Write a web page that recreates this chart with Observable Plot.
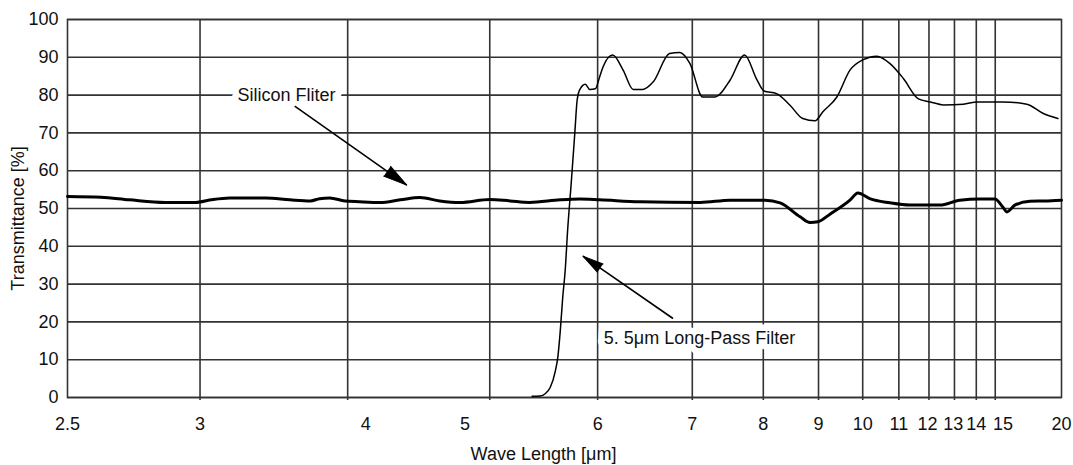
<!DOCTYPE html>
<html><head><meta charset="utf-8">
<script src="https://cdn.jsdelivr.net/npm/d3@7"></script>
<script src="https://cdn.jsdelivr.net/npm/@observablehq/plot@0.6"></script>
<style>html,body{margin:0;padding:0;background:#fff;} #chart{width:1073px;height:465px;overflow:hidden;}</style>
</head><body><div id="chart"></div>
<script>
// ---- data (wavelength in µm, transmittance in %) ----
const tickLabels    = ["2.5", "3", "4", "5", "6", "7", "8", "9", "10", "11", "12", "13", "14", "15", "20"];
const tickLabelAt   = [2.5, 3, 4, 5, 6, 7, 8, 9, 10, 11, 11.95, 12.95, 14, 15.45, 20]; // where each label sits in the reference
const gridWaves     = [3, 3.86, 5.16, 6, 7, 8, 9, 10, 11, 12, 13, 14, 15];
const yTicks        = [0, 10, 20, 30, 40, 50, 60, 70, 80, 90, 100];

const siliconWave = [2.50, 2.61, 2.71, 2.85, 2.98, 3.05, 3.14, 3.33, 3.47, 3.60, 3.66, 3.73, 3.84, 3.95, 4.12, 4.30, 4.49, 4.70, 4.94, 5.16, 5.30, 5.44, 5.68, 5.84, 6.02, 6.41, 7.10, 7.50, 8.03, 8.28, 8.64, 8.83, 8.99, 9.24, 9.69, 9.88, 10.18, 10.73, 11.35, 12.41, 13.23, 14.18, 14.98, 15.44, 15.69, 16.20, 17.25, 18.45, 20.0];
const siliconT    = [53.2, 53.0, 52.3, 51.6, 51.6, 52.3, 52.8, 52.8, 52.3, 52.0, 52.6, 52.8, 52.0, 51.8, 51.6, 52.3, 52.9, 52.0, 51.6, 52.4, 52.0, 51.6, 52.3, 52.5, 52.3, 51.8, 51.6, 52.2, 52.2, 51.5, 47.8, 46.3, 46.5, 48.5, 52.2, 54.1, 52.6, 51.5, 50.9, 50.9, 52.2, 52.5, 52.5, 50.4, 49.1, 50.9, 51.9, 52.0, 52.2];

const lpWave = [5.46, 5.52, 5.56, 5.60, 5.64, 5.66, 5.68, 5.70, 5.72, 5.74, 5.77, 5.80, 5.82, 5.84, 5.89, 5.93, 5.98, 6.02, 6.05, 6.14, 6.24, 6.34, 6.44, 6.55, 6.73, 6.85, 6.97, 7.13, 7.29, 7.50, 7.71, 7.90, 8.01, 8.22, 8.45, 8.69, 8.93, 9.09, 9.39, 9.69, 10.00, 10.37, 10.73, 11.14, 11.63, 12.05, 12.55, 13.39, 14.05, 15.44, 17.03, 18.28, 19.64];
const lpT    = [0.3, 0.4, 1.0, 2.7, 7.0, 10.7, 17.7, 26.6, 33.6, 44.2, 56.7, 69.9, 78.7, 81.3, 82.9, 81.5, 81.7, 85.0, 87.5, 90.6, 86.6, 81.5, 81.5, 83.5, 91.0, 91.3, 88.4, 79.5, 79.5, 84.0, 90.6, 84.0, 81.1, 80.4, 77.4, 73.8, 73.2, 75.6, 79.5, 86.6, 89.3, 90.3, 88.4, 84.4, 79.0, 78.2, 77.4, 77.6, 78.2, 78.2, 77.6, 75.2, 73.8];

const labelTexts  = ["Silicon Fliter", "5. 5μm Long-Pass Filter"];
const labelWave   = [3.45, 7.09];
const labelT      = [80, 15.6];
const arrowFromW  = [3.50, 6.77];
const arrowFromT  = [77.1, 20.9];
const arrowToW    = [4.36, 5.87];
const arrowToT    = [56.2, 37.4];

// ---- axis transform: wavenumber scale, 4000–2000 cm⁻¹ compressed 2×, 2000–500 cm⁻¹ ----
function toAxis(w) { const nu = 10000 / w; return nu >= 2000 ? (4000 - nu) / 2 : 1000 + (2000 - nu); }

const W = 1073, H = 465, ML = 67, MR = 12, MT = 19, MB = 68;
const kx = (W - ML - MR) / 2500, ky = (H - MT - MB) / 100;

const silicon = siliconWave.map((w, i) => ({x: toAxis(w), t: siliconT[i]}));
const longpass = lpWave.map((w, i) => ({x: toAxis(w), t: lpT[i]}));
const labels = labelTexts.map((s, i) => ({text: s, x: toAxis(labelWave[i]), t: labelT[i]}));
const arrows = arrowFromW.map((w, i) => {
  const x1 = toAxis(w), y1 = arrowFromT[i], x2 = toAxis(arrowToW[i]), y2 = arrowToT[i];
  const dxp = (x2 - x1) * kx, dyp = -(y2 - y1) * ky;
  return {x1, y1, x2, y2, angle: Math.atan2(dxp, -dyp) * 180 / Math.PI};
});
const tickMap = new Map(tickLabelAt.map((w, i) => [toAxis(w), tickLabels[i]]));
const ink = "#111";
const gridColor = "#333";

const chart = Plot.plot({
  width: W, height: H,
  marginLeft: ML, marginRight: MR, marginTop: MT, marginBottom: MB,
  style: {fontFamily: "'Liberation Sans', Arial, sans-serif", fontSize: "18px", color: ink, background: "#fff"},
  x: {type: "linear", domain: [0, 2500], label: null, axis: null},
  y: {type: "linear", domain: [0, 100], label: null, axis: null},
  marks: [
    Plot.ruleY(yTicks, {y: d => d, stroke: gridColor, strokeWidth: 1.6}),
    Plot.ruleX(gridWaves.map(toAxis), {x: d => d, y1: 0, y2: 100, stroke: gridColor, strokeWidth: 1.6}),
    Plot.axisX(gridWaves.map(toAxis), {tickSize: 3, tickFormat: () => "", stroke: gridColor, strokeWidth: 1.6, label: null}),
    Plot.frame({stroke: gridColor, strokeWidth: 1.6}),
    Plot.line(silicon, {x: "x", y: "t", stroke: "#000", strokeWidth: 3, curve: "monotone-x"}),
    Plot.line(longpass, {x: "x", y: "t", stroke: "#000", strokeWidth: 1.5, curve: "monotone-x"}),
    Plot.text(labels, {x: "x", y: "t", text: "text", fill: ink, stroke: "white", strokeWidth: 13, paintOrder: "stroke", fontSize: 18}),
    Plot.link(arrows, {x1: "x1", y1: "y1", x2: "x2", y2: "y2", stroke: "#000", strokeWidth: 1.6}),
    Plot.vector(arrows.slice(0, 1), {x: "x2", y: "y2", rotate: "angle", length: 24, r: 6, shape: "spike", anchor: "end", fill: "#000", stroke: "#000", strokeWidth: 1}),
    Plot.vector(arrows.slice(1), {x: "x2", y: "y2", rotate: "angle", length: 21, r: 5, shape: "spike", anchor: "end", fill: "#000", stroke: "#000", strokeWidth: 1}),
    Plot.axisX([...tickMap.keys()], {tickSize: 0, tickPadding: 20, tickFormat: d => tickMap.get(d), fontSize: 18, label: null}),
    Plot.axisY(yTicks, {tickSize: 0, tickPadding: 9, fontSize: 18, label: null}),
    Plot.text(["Wave Length [μm]"], {frameAnchor: "bottom", dx: -21, dy: 57, textAnchor: "middle", lineAnchor: "middle", fill: ink, fontSize: 18}),
    Plot.text(["Transmittance [%]"], {frameAnchor: "left", dx: -49.5, dy: 10, rotate: -90, textAnchor: "middle", lineAnchor: "middle", fill: ink, fontSize: 18})
  ]
});
document.getElementById("chart").appendChild(chart);
</script>
</body></html>
